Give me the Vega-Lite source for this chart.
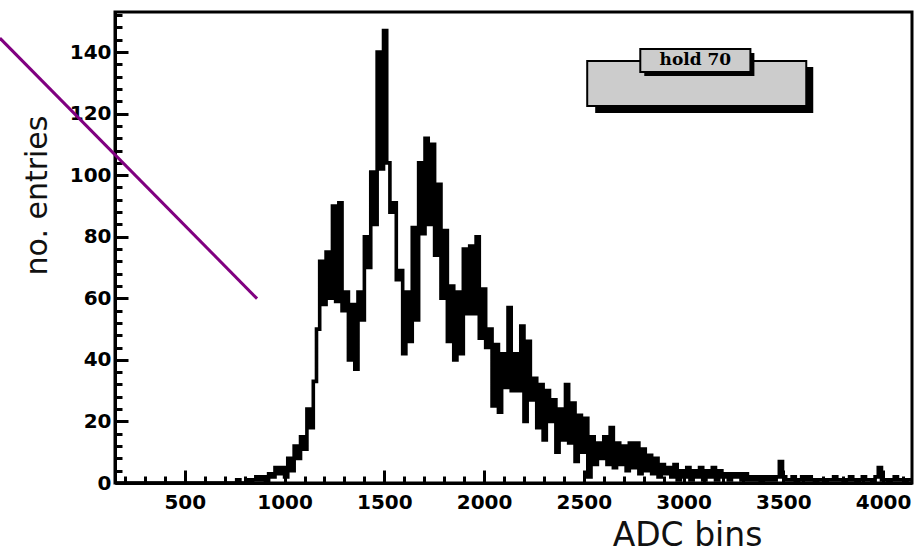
{
  "$schema": "https://vega.github.io/schema/vega-lite/v6.json",
  "width": 797,
  "height": 471,
  "padding": {"left": 115, "top": 12, "right": 3, "bottom": 70},
  "autosize": {"type": "none"},
  "background": "white",
  "config": {
    "view": {"stroke": "black", "strokeWidth": 3},
    "axis": {"domainColor": "black", "domainWidth": 3, "tickColor": "black", "tickWidth": 3, "grid": false, "labelColor": "black", "labelFlush": false, "labelOverlap": false}
  },
  "resolve": {"axis": {"x": "independent", "y": "independent"}},
  "datasets": {
    "hist": [
      {"adc": 160, "n": 0}, {"adc": 736, "n": 0},
      {"adc": 752, "n": 0}, {"adc": 768, "n": 1}, {"adc": 784, "n": 0}, {"adc": 800, "n": 0}, {"adc": 816, "n": 1}, {"adc": 832, "n": 0}, {"adc": 848, "n": 1}, {"adc": 864, "n": 2}, {"adc": 880, "n": 1}, {"adc": 896, "n": 2}, {"adc": 912, "n": 0}, {"adc": 928, "n": 3}, {"adc": 944, "n": 2}, {"adc": 960, "n": 5}, {"adc": 976, "n": 3}, {"adc": 992, "n": 5}, {"adc": 1008, "n": 2}, {"adc": 1024, "n": 8}, {"adc": 1040, "n": 4}, {"adc": 1056, "n": 12}, {"adc": 1072, "n": 8}, {"adc": 1088, "n": 15}, {"adc": 1104, "n": 11}, {"adc": 1120, "n": 24}, {"adc": 1136, "n": 18}, {"adc": 1152, "n": 33}, {"adc": 1168, "n": 50}, {"adc": 1184, "n": 72}, {"adc": 1200, "n": 58}, {"adc": 1216, "n": 75}, {"adc": 1232, "n": 60}, {"adc": 1248, "n": 90}, {"adc": 1264, "n": 59}, {"adc": 1280, "n": 91}, {"adc": 1296, "n": 56}, {"adc": 1312, "n": 62}, {"adc": 1328, "n": 40}, {"adc": 1344, "n": 58}, {"adc": 1360, "n": 37}, {"adc": 1376, "n": 62}, {"adc": 1392, "n": 53}, {"adc": 1408, "n": 80}, {"adc": 1424, "n": 70}, {"adc": 1440, "n": 101}, {"adc": 1456, "n": 84}, {"adc": 1472, "n": 140}, {"adc": 1488, "n": 102}, {"adc": 1504, "n": 147}, {"adc": 1520, "n": 104}, {"adc": 1536, "n": 88}, {"adc": 1552, "n": 91}, {"adc": 1568, "n": 66}, {"adc": 1584, "n": 69}, {"adc": 1600, "n": 42}, {"adc": 1616, "n": 62}, {"adc": 1632, "n": 46}, {"adc": 1648, "n": 83}, {"adc": 1664, "n": 53}, {"adc": 1680, "n": 104}, {"adc": 1696, "n": 81}, {"adc": 1712, "n": 112}, {"adc": 1728, "n": 84}, {"adc": 1744, "n": 110}, {"adc": 1760, "n": 74}, {"adc": 1776, "n": 97}, {"adc": 1792, "n": 60}, {"adc": 1808, "n": 82}, {"adc": 1824, "n": 46}, {"adc": 1840, "n": 64}, {"adc": 1856, "n": 40}, {"adc": 1872, "n": 62}, {"adc": 1888, "n": 42}, {"adc": 1904, "n": 76}, {"adc": 1920, "n": 55}, {"adc": 1936, "n": 77}, {"adc": 1952, "n": 55}, {"adc": 1968, "n": 80}, {"adc": 1984, "n": 47}, {"adc": 2000, "n": 63}, {"adc": 2016, "n": 44}, {"adc": 2032, "n": 50}, {"adc": 2048, "n": 25}, {"adc": 2064, "n": 45}, {"adc": 2080, "n": 23}, {"adc": 2096, "n": 42}, {"adc": 2112, "n": 31}, {"adc": 2128, "n": 57}, {"adc": 2144, "n": 30}, {"adc": 2160, "n": 42}, {"adc": 2176, "n": 30}, {"adc": 2192, "n": 51}, {"adc": 2208, "n": 20}, {"adc": 2224, "n": 46}, {"adc": 2240, "n": 27}, {"adc": 2256, "n": 34}, {"adc": 2272, "n": 18}, {"adc": 2288, "n": 32}, {"adc": 2304, "n": 14}, {"adc": 2320, "n": 30}, {"adc": 2336, "n": 20}, {"adc": 2352, "n": 27}, {"adc": 2368, "n": 10}, {"adc": 2384, "n": 24}, {"adc": 2400, "n": 14}, {"adc": 2416, "n": 32}, {"adc": 2432, "n": 13}, {"adc": 2448, "n": 26}, {"adc": 2464, "n": 7}, {"adc": 2480, "n": 22}, {"adc": 2496, "n": 10}, {"adc": 2512, "n": 21}, {"adc": 2528, "n": 2}, {"adc": 2544, "n": 15}, {"adc": 2560, "n": 6}, {"adc": 2576, "n": 13}, {"adc": 2592, "n": 8}, {"adc": 2608, "n": 15}, {"adc": 2624, "n": 6}, {"adc": 2640, "n": 18}, {"adc": 2656, "n": 5}, {"adc": 2672, "n": 13}, {"adc": 2688, "n": 6}, {"adc": 2704, "n": 12}, {"adc": 2720, "n": 4}, {"adc": 2736, "n": 13}, {"adc": 2752, "n": 5}, {"adc": 2768, "n": 13}, {"adc": 2784, "n": 3}, {"adc": 2800, "n": 11}, {"adc": 2816, "n": 4}, {"adc": 2832, "n": 9}, {"adc": 2848, "n": 3}, {"adc": 2864, "n": 8}, {"adc": 2880, "n": 2}, {"adc": 2896, "n": 6}, {"adc": 2912, "n": 3}, {"adc": 2928, "n": 5}, {"adc": 2944, "n": 2}, {"adc": 2960, "n": 6}, {"adc": 2976, "n": 1}, {"adc": 2992, "n": 4}, {"adc": 3008, "n": 2}, {"adc": 3024, "n": 5}, {"adc": 3040, "n": 1}, {"adc": 3056, "n": 4}, {"adc": 3072, "n": 2}, {"adc": 3088, "n": 5}, {"adc": 3104, "n": 1}, {"adc": 3120, "n": 4}, {"adc": 3136, "n": 2}, {"adc": 3152, "n": 5}, {"adc": 3168, "n": 1}, {"adc": 3184, "n": 4}, {"adc": 3200, "n": 2}, {"adc": 3216, "n": 3}, {"adc": 3232, "n": 1}, {"adc": 3248, "n": 3}, {"adc": 3264, "n": 2}, {"adc": 3280, "n": 3}, {"adc": 3296, "n": 1}, {"adc": 3312, "n": 3}, {"adc": 3328, "n": 1}, {"adc": 3344, "n": 2}, {"adc": 3360, "n": 1}, {"adc": 3376, "n": 2}, {"adc": 3392, "n": 0}, {"adc": 3408, "n": 2}, {"adc": 3424, "n": 1}, {"adc": 3440, "n": 2}, {"adc": 3456, "n": 1}, {"adc": 3472, "n": 2}, {"adc": 3488, "n": 7}, {"adc": 3504, "n": 2}, {"adc": 3520, "n": 1}, {"adc": 3536, "n": 1}, {"adc": 3552, "n": 2}, {"adc": 3568, "n": 0}, {"adc": 3584, "n": 1}, {"adc": 3600, "n": 2}, {"adc": 3616, "n": 1}, {"adc": 3632, "n": 2}, {"adc": 3648, "n": 1}, {"adc": 3664, "n": 0}, {"adc": 3680, "n": 1}, {"adc": 3696, "n": 1}, {"adc": 3712, "n": 0}, {"adc": 3728, "n": 1}, {"adc": 3744, "n": 1}, {"adc": 3760, "n": 2}, {"adc": 3776, "n": 1}, {"adc": 3792, "n": 1}, {"adc": 3808, "n": 0}, {"adc": 3824, "n": 1}, {"adc": 3840, "n": 2}, {"adc": 3856, "n": 1}, {"adc": 3872, "n": 0}, {"adc": 3888, "n": 1}, {"adc": 3904, "n": 2}, {"adc": 3920, "n": 1}, {"adc": 3936, "n": 1}, {"adc": 3952, "n": 0}, {"adc": 3968, "n": 2}, {"adc": 3984, "n": 5}, {"adc": 4000, "n": 1}, {"adc": 4016, "n": 1}, {"adc": 4032, "n": 0}, {"adc": 4048, "n": 1}, {"adc": 4064, "n": 2}, {"adc": 4080, "n": 1}, {"adc": 4096, "n": 1}, {"adc": 4112, "n": 0}, {"adc": 4128, "n": 1}, {"adc": 4144, "n": 1}
    ]
  },
  "layer": [
    {
      "data": {"values": [{"x1": 2557, "x2": 3650, "y1": 120.2, "y2": 135.1}]},
      "mark": {"type": "rect", "fill": "black"},
      "encoding": {
        "x": {"field": "x1", "type": "quantitative", "scale": {"domain": [150, 4145], "nice": false, "zero": false}, "axis": null},
        "x2": {"field": "x2"},
        "y": {"field": "y1", "type": "quantitative", "scale": {"domain": [0, 153], "nice": false, "zero": false}, "axis": null},
        "y2": {"field": "y2"}
      }
    },
    {
      "data": {"values": [{"x1": 2517, "x2": 3615, "y1": 122.5, "y2": 137.1}]},
      "mark": {"type": "rect", "fill": "#cccccc", "stroke": "black", "strokeWidth": 2},
      "encoding": {
        "x": {"field": "x1", "type": "quantitative", "axis": null},
        "x2": {"field": "x2"},
        "y": {"field": "y1", "type": "quantitative", "axis": null},
        "y2": {"field": "y2"}
      }
    },
    {
      "data": {"values": [{"x1": 2803, "x2": 3355, "y1": 132.2, "y2": 139.7}]},
      "mark": {"type": "rect", "fill": "black"},
      "encoding": {
        "x": {"field": "x1", "type": "quantitative", "axis": null},
        "x2": {"field": "x2"},
        "y": {"field": "y1", "type": "quantitative", "axis": null},
        "y2": {"field": "y2"}
      }
    },
    {
      "data": {"values": [{"x1": 2783, "x2": 3335, "y1": 133.5, "y2": 141}]},
      "mark": {"type": "rect", "fill": "#cccccc", "stroke": "black", "strokeWidth": 2},
      "encoding": {
        "x": {"field": "x1", "type": "quantitative", "axis": null},
        "x2": {"field": "x2"},
        "y": {"field": "y1", "type": "quantitative", "axis": null},
        "y2": {"field": "y2"}
      }
    },
    {
      "data": {"values": [{"x": 3059, "y": 137.3, "label": "hold 70"}]},
      "mark": {"type": "text", "font": "DejaVu Serif", "fontWeight": "bold", "fontSize": 17, "color": "black", "align": "center", "baseline": "middle"},
      "encoding": {
        "x": {"field": "x", "type": "quantitative", "axis": null},
        "y": {"field": "y", "type": "quantitative", "axis": null},
        "text": {"field": "label"}
      }
    },
    {
      "data": {"name": "hist"},
      "mark": {"type": "line", "interpolate": "step", "strokeOpacity": 0},
      "encoding": {
        "x": {
          "field": "adc", "type": "quantitative",
          "axis": {
            "orient": "bottom",
            "values": [200, 300, 400, 600, 700, 800, 900, 1100, 1200, 1300, 1400, 1600, 1700, 1800, 1900, 2100, 2200, 2300, 2400, 2600, 2700, 2800, 2900, 3100, 3200, 3300, 3400, 3600, 3700, 3800, 3900, 4100],
            "labels": false, "domain": false, "title": null, "tickSize": -7
          }
        },
        "y": {
          "field": "n", "type": "quantitative",
          "axis": {
            "orient": "left",
            "values": [4, 8, 12, 16, 24, 28, 32, 36, 44, 48, 52, 56, 64, 68, 72, 76, 84, 88, 92, 96, 104, 108, 112, 116, 124, 128, 132, 136, 144, 148, 152],
            "labels": false, "domain": false, "title": null, "tickSize": -7
          }
        }
      }
    },
    {
      "data": {"name": "hist"},
      "mark": {"type": "line", "interpolate": "step", "color": "black", "strokeWidth": 3.6},
      "encoding": {
        "x": {
          "field": "adc", "type": "quantitative",
          "axis": {
            "orient": "bottom",
            "values": [500, 1000, 1500, 2000, 2500, 3000, 3500, 4000],
            "format": "d", "tickSize": -13, "labelOverlap": false,
            "labelFont": "DejaVu Sans", "labelFontWeight": "bold", "labelFontSize": 20, "labelPadding": 22,
            "title": "ADC bins", "titleFont": "DejaVu Sans", "titleFontWeight": "normal", "titleFontSize": 33, "titleColor": "#111111",
            "titleX": 572, "titleY": 62, "titleAlign": "center", "titleBaseline": "alphabetic"
          }
        },
        "y": {
          "field": "n", "type": "quantitative",
          "axis": {
            "orient": "left",
            "values": [0, 20, 40, 60, 80, 100, 120, 140],
            "format": "d", "tickSize": -13, "labelOverlap": false,
            "labelFont": "DejaVu Sans", "labelFontWeight": "bold", "labelFontSize": 20, "labelPadding": 17,
            "title": "no. entries", "titleFont": "DejaVu Sans", "titleFontWeight": "normal", "titleFontSize": 30, "titleColor": "#111111",
            "titleAngle": 270, "titleX": -69, "titleY": 183, "titleAlign": "center", "titleBaseline": "alphabetic"
          }
        }
      }
    },
    {
      "data": {"values": [{"x1": -427, "x2": 862, "y1": 144.5, "y2": 59.9}]},
      "mark": {"type": "rule", "color": "#800080", "strokeWidth": 3, "clip": false},
      "encoding": {
        "x": {"field": "x1", "type": "quantitative", "axis": null},
        "x2": {"field": "x2"},
        "y": {"field": "y1", "type": "quantitative", "axis": null},
        "y2": {"field": "y2"}
      }
    }
  ]
}
